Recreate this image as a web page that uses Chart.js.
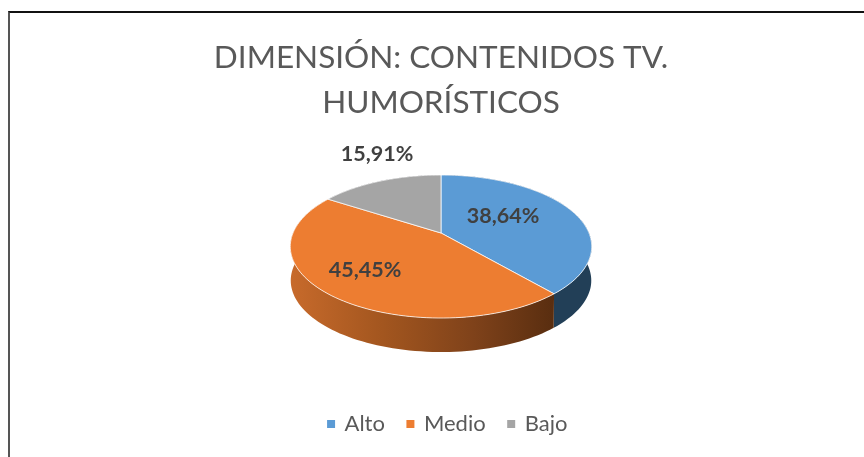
<!DOCTYPE html>
<html>
<head>
<meta charset="utf-8">
<script src="https://cdn.jsdelivr.net/npm/chart.js@4"></script>
<style>
  html, body { margin: 0; padding: 0; background: #fff; overflow: hidden; }
  #wrap { position: relative; width: 864px; height: 457px; }
  #frame { position: absolute; left: 8px; top: 11px; width: 870px; height: 460px; border-left: 2px solid #555; border-top: 2px solid #111; }
  canvas { position: absolute; left: 0; top: 0; }
</style>
</head>
<body>
<div id="wrap">
  <div id="frame"></div>
  <canvas id="chart" width="864" height="457"></canvas>
</div>
<script>
const categories = ["Alto", "Medio", "Bajo"];
const percentages = [38.64, 45.45, 15.91];
const titleLines = ["DIMENSIÓN: CONTENIDOS TV.", "HUMORÍSTICOS"];
const sliceColors = ["#5B9BD5", "#ED7D31", "#A5A5A5"];

// canvas has no perspective transform so the tilted pie gets projected by hand
// from the angles of the arc elements
const view = { cx: 441, cy: 233, d: 148, a: 68.95, c: -0.189, depth: 34 };
// label spots, placed by hand like in the original
const labelSpots = [[503, 216], [365, 270], [377, 154]];

function project(angle, r, drop) {
  const u = Math.cos(angle) * r;
  const v = Math.sin(angle) * r;
  const w = 1 + view.c * v;
  const shrink = drop ? 0.997 : 1;
  return [view.cx + shrink * view.d * u / w, view.cy + view.a * v / w + (drop || 0)];
}

function trace(ctx, start, end, drop, first) {
  const steps = 90;
  for (let i = 0; i <= steps; i++) {
    const p = project(start + (end - start) * i / steps, 1, drop);
    if (i === 0 && first) ctx.moveTo(p[0], p[1]);
    else ctx.lineTo(p[0], p[1]);
  }
}

function wallPaint(ctx, index) {
  if (index === 0) return "#223F57";
  if (index === 2) return "#63636B";
  const g = ctx.createLinearGradient(291, 0, 552, 0);
  g.addColorStop(0, "#C76A2B");
  g.addColorStop(0.35, "#A3561F");
  g.addColorStop(0.7, "#7F421A");
  g.addColorStop(1, "#5A2E10");
  return g;
}

const tiltedPie = {
  id: "tiltedPie",
  // legend sits a bit right of the title in the original
  afterLayout(chart) {
    chart.legend.left += 7;
    chart.legend.right += 7;
  },
  beforeDatasetDraw(chart) {
    const ctx = chart.ctx;
    const arcs = chart.getDatasetMeta(0).data;
    ctx.save();
    // side walls first
    [2, 0, 1].forEach((i) => {
      const arc = arcs[i];
      ctx.beginPath();
      trace(ctx, arc.startAngle, arc.endAngle, 0, true);
      trace(ctx, arc.endAngle, arc.startAngle, view.depth, false);
      ctx.closePath();
      ctx.fillStyle = wallPaint(ctx, i);
      ctx.fill();
    });
    // top face
    arcs.forEach((arc, i) => {
      ctx.beginPath();
      ctx.moveTo(view.cx, view.cy);
      trace(ctx, arc.startAngle, arc.endAngle, 0, false);
      ctx.closePath();
      ctx.fillStyle = sliceColors[i];
      ctx.fill();
      ctx.lineWidth = 1;
      ctx.strokeStyle = "rgba(255,255,255,0.75)";
      ctx.stroke();
    });
    // labels
    ctx.font = "bold 21.5px Lato";
    ctx.fillStyle = "#404040";
    ctx.textAlign = "center";
    ctx.textBaseline = "middle";
    percentages.forEach((v, i) => {
      ctx.fillText(v.toFixed(2).replace(".", ",") + "%", labelSpots[i][0], labelSpots[i][1]);
    });
    ctx.restore();
    return false;
  },
};

new Chart(document.getElementById("chart"), {
  type: "pie",
  data: {
    labels: categories,
    datasets: [{ data: percentages, backgroundColor: sliceColors, borderWidth: 0 }],
  },
  plugins: [tiltedPie],
  options: {
    responsive: false,
    animation: false,
    layout: { padding: { left: 18, top: 35.5, bottom: 12 } },
    plugins: {
      tooltip: { enabled: false },
      title: {
        display: true,
        text: titleLines,
        color: "#595959",
        font: { family: "Lato", size: 31.5, weight: "normal", lineHeight: 1.43 },
        padding: { top: 0, bottom: 8 },
      },
      legend: {
        position: "bottom",
        labels: {
          color: "#595959",
          font: { family: "Lato", size: 22 },
          usePointStyle: true,
          pointStyle: "rect",
          boxWidth: 5,
          boxHeight: 8,
          padding: 23,
        },
      },
    },
  },
});
</script>
</body>
</html>
